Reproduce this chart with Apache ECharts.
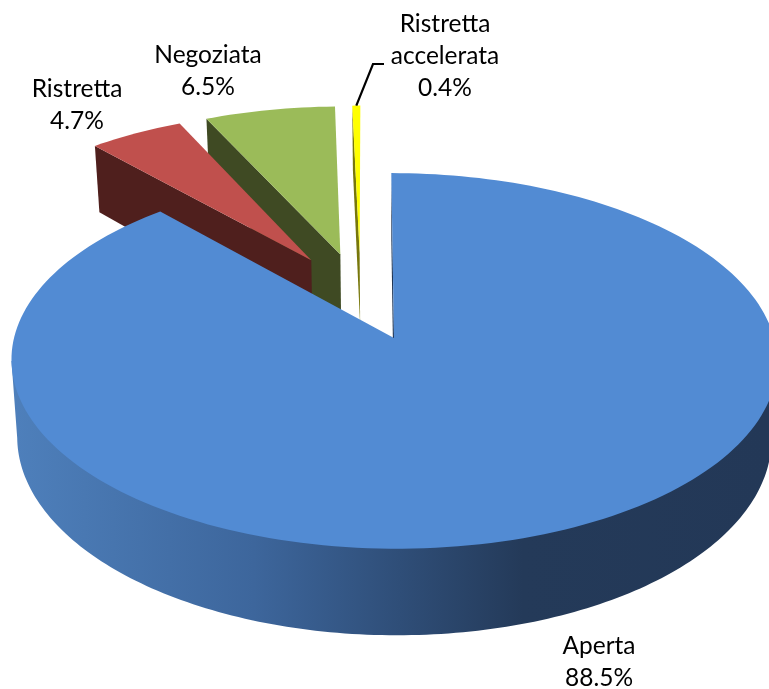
<!DOCTYPE html>
<html><head><meta charset="utf-8">
<style>html,body{margin:0;padding:0;background:#fff;overflow:hidden}#c{width:769px;height:689px}</style>
<script src="https://cdn.jsdelivr.net/npm/echarts@6/dist/echarts.min.js"></script>
</head><body><div id="c"></div>
<script>
const categories = ['Aperta', 'Ristretta', 'Negoziata', 'Ristretta\naccelerata'];
const shares = [88.5, 4.7, 6.5, 0.4];

// styling, by category order
const topColors = ['#528BD3', '#C0504D', '#9BBB59', '#FFFF00'];
const wallColors = ['#1F3554', '#4F1F1D', '#3F4A23', '#77770A'];
const blueWall = [[0, '#4F81BD'], [0.33, '#3D669C'], [0.52, '#2F4E78'], [0.68, '#243A59'], [1, '#233857']];
const labelXY = [[599, 662], [77, 105], [208, 71], [445, 56]];

// projection of the tilted pie
const AX = 394, AY = 338, RX = 380, RY = 185, PERSP = 0.122, DEPTH = 76, SHRINK = 0.985, EXPLODE = 0.25, SKEW = 2.7;
const rad = d => d * Math.PI / 180;
const total = shares.reduce((a, b) => a + b, 0);
const starts = []; shares.reduce((a, b, i) => (starts[i] = a, a + b), 0);
const midOf = i => (starts[i] + shares[i] / 2) / total * 360;
const SIDE_R = 97, SIDE_L = 263; // where the rim turns away from the viewer

function proj(u, v, low) {
  const k = 1 / (1 + PERSP * v);
  let x = RX * u * k - SKEW * v, y = -RY * v * k;
  if (low) { x *= SHRINK; y += DEPTH * k; }
  return [AX + x, AY + y];
}

function renderItem(params, api) {
  const i = params.dataIndex;
  const a0 = api.value(1) / total * 360, a1 = a0 + api.value(0) / total * 360;
  const m = rad(midOf(i)), b = rad(midOf(0));
  const ou = EXPLODE * (Math.sin(m) - Math.sin(b)), ov = EXPLODE * (Math.cos(m) - Math.cos(b));
  const rim = (deg, low) => proj(ou + Math.sin(rad(deg)), ov + Math.cos(rad(deg)), low);
  const apex = low => proj(ou, ov, low);
  const z = (4 - i) * 10;
  const kids = [];
  // radial wall on the slice's leading edge
  kids.push({ type: 'polygon', z2: z, shape: { points: [apex(false), rim(a0, false), rim(a0, true), apex(true)] },
    style: { fill: wallColors[i] } });
  // outer wall: only the part facing the viewer
  const w0 = Math.max(a0, SIDE_R), w1 = Math.min(a1, SIDE_L);
  if (w1 > w0) {
    const band = [];
    for (let d = w0; d <= w1; d += 1) band.push(rim(d, true));
    band.push(rim(w1, false), rim(w0, false));
    kids.push({ type: 'polygon', z2: z + 1, shape: { points: band },
      style: { fill: { type: 'linear', x: 0, y: 0, x2: 769, y2: 0, global: true,
        colorStops: blueWall.map(s => ({ offset: s[0], color: s[1] })) } } });
  }
  // top
  const n = Math.max(3, Math.ceil((a1 - a0) / 1.5));
  const top = [apex(false)];
  for (let s = 0; s <= n; s++) top.push(rim(a0 + (a1 - a0) * s / n, false));
  kids.push({ type: 'polygon', shape: { points: top }, z2: z + 2, style: { fill: topColors[i] } });
  // label
  kids.push({ type: 'text', x: labelXY[i][0], y: labelXY[i][1], z2: 100,
    style: { text: categories[i] + '\n' + shares[i].toFixed(1) + '%', fill: '#000',
      font: '24.5px Lato', lineHeight: 32, align: 'center', verticalAlign: 'middle' } });
  // leader line of the thinnest slice
  if (i === 3) {
    const t = rim((a0 + a1) / 2, false);
    kids.push({ type: 'polyline', z2: 100, shape: { points: [[384, 64], [373, 64], [t[0], t[1]]] },
      style: { stroke: '#000', lineWidth: 2.2, fill: 'none' } });
  }
  return { type: 'group', children: kids };
}

const chart = echarts.init(document.getElementById('c'), null, { renderer: 'canvas' });
chart.setOption({
  animation: false,
  backgroundColor: '#fff',
  series: [{
    type: 'custom',
    coordinateSystem: 'none',
    renderItem,
    silent: true,
    data: shares.map((v, i) => [v, starts[i]])
  }]
});
</script></body></html>
